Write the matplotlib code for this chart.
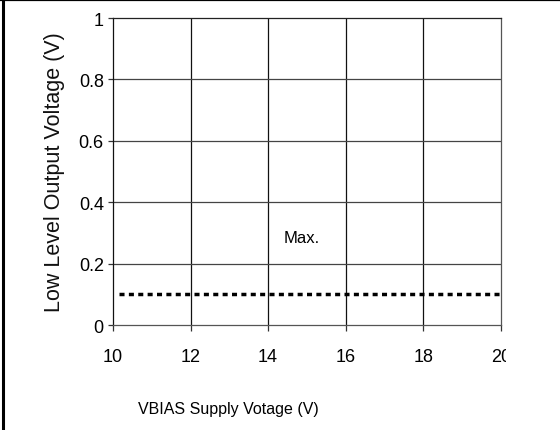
import matplotlib
matplotlib.use("Agg")
import matplotlib.pyplot as plt
from matplotlib.lines import Line2D
from matplotlib.transforms import Bbox

# Supply voltage axis and the maximum low-level output voltage
vbias = [10.15, 20.0]
vol_max = [0.1, 0.1]
x_ticks = [10, 12, 14, 16, 18, 20]
x_labels = ["10", "12", "14", "16", "18", "20"]
y_ticks = [0, 0.2, 0.4, 0.6, 0.8, 1.0]
y_labels = ["0", "0.2", "0.4", "0.6", "0.8", "1"]

font = ["Liberation Sans", "DejaVu Sans"]

fig = plt.figure(figsize=(5.6, 4.31), dpi=100)
ax = fig.add_axes([0.2018, 0.2436, 0.6923, 0.7123])

ax.set_xlim(10, 20)
ax.set_ylim(0, 1)

# grid: dark verticals, slightly grey horizontals
for xv in x_ticks[1:-1]:
    ax.axvline(xv, color="#111111", lw=0.9, zorder=1)
for yv in y_ticks[1:-1]:
    ax.axhline(yv, color="#444444", lw=0.9, zorder=1)

ax.plot(vbias, vol_max, color="black", lw=2.5, dashes=(1.45, 1.25),
        solid_capstyle="butt", dash_capstyle="butt", zorder=3)

ax.text(14.87, 0.285, "Max.", family=font, fontsize=12, ha="center",
        va="center", color="black")

for side, col in (("left", "#111111"), ("top", "#222222"),
                  ("right", "#555555"), ("bottom", "#555555")):
    ax.spines[side].set_color(col)
    ax.spines[side].set_linewidth(0.9)

ax.set_xticks(x_ticks)
ax.set_xticklabels(x_labels, family=font, fontsize=13)
ax.set_yticks(y_ticks)
ax.set_yticklabels(y_labels, family=font, fontsize=13)
ax.tick_params(axis="x", direction="out", length=4.5, width=0.9,
               color="#333333", pad=12)
ax.tick_params(axis="y", direction="out", length=3.6, width=0.9,
               color="#333333", pad=3)

# the last x tick label is cut off at the right margin
last = ax.get_xticklabels()[-1]
last.set_clip_box(Bbox.from_extents(0, 0, 506, 431))
last.set_clip_on(True)

fig.text(0.098, 0.6, "Low Level Output Voltage (V)", family=font,
         fontsize=15.5, rotation=90, ha="center", va="center", color="#111111")
fig.text(0.408, 0.049, "VBIAS Supply Votage (V)", family=font,
         fontsize=11.5, ha="center", va="center")

# page frame (left and top edges)
fig.add_artist(Line2D([3.0 / 560, 3.0 / 560], [0, 1], transform=fig.transFigure,
                      color="black", lw=2.2))
fig.add_artist(Line2D([0, 1], [1 - 0.8 / 431, 1 - 0.8 / 431],
                      transform=fig.transFigure, color="black", lw=1.6))

fig.savefig("out.png", dpi=100)
